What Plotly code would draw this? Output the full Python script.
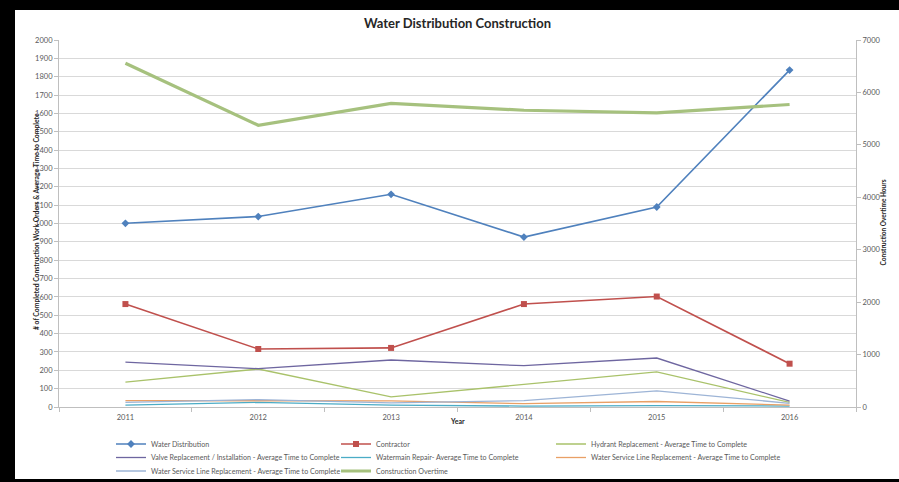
import plotly.graph_objects as go

# Years on the category axis
years = ["2011", "2012", "2013", "2014", "2015", "2016"]

# Left-axis series (work orders & average time to complete)
water_distribution = [1001, 1038, 1159, 926, 1090, 1836]
contractor = [561, 316, 322, 561, 602, 236]
hydrant_replacement = [136, 207, 55, 125, 191, 25]
valve_replacement = [245, 209, 256, 225, 267, 32]
watermain_repair = [10, 25, 10, 5, 8, 5]
service_line_a = [35, 35, 33, 18, 30, 10]
service_line_b = [25, 40, 22, 35, 88, 20]

# Right-axis series (overtime hours)
construction_overtime = [6556, 5373, 5790, 5660, 5610, 5770]

FONT = "Lato, 'Open Sans', sans-serif"
GRAY = "#595959"

W, H = 899, 482
L, R, T, B = 59, 43, 40, 75
PW, PH = W - L - R, H - T - B


def px_x(px):
    return (px - L) / PW


def px_y(py):
    return (H - B - py) / PH


fig = go.Figure()

# name, values, colour, width, marker symbol
line_series = [
    ("Water Distribution", water_distribution, "#4F81BD", 1.6, "diamond"),
    ("Contractor", contractor, "#C0504D", 1.6, "square"),
    ("Hydrant Replacement - Average Time to Complete", hydrant_replacement, "#A9C26A", 1.3, None),
    ("Valve Replacement / Installation - Average Time to Complete", valve_replacement, "#6E66A0", 1.3, None),
    ("Watermain Repair- Average Time to Complete", watermain_repair, "#4BACC6", 1.3, None),
    ("Water Service Line Replacement - Average Time to Complete", service_line_a, "#E9A066", 1.3, None),
    ("Water Service Line Replacement - Average Time to Complete", service_line_b, "#9DB4D6", 1.3, None),
]

# Each legend entry gets its own legend box, laid out on a 3-column grid
legend_ids = ["legend"] + [f"legend{i}" for i in range(2, 9)]
col_text_x = [151, 376, 591]
row_y = [444, 457.5, 471]

for i, (name, vals, color, width, sym) in enumerate(line_series):
    kw = dict(mode="lines")
    if sym:
        kw = dict(mode="lines+markers", marker=dict(symbol=sym, size=6, color=color))
    fig.add_trace(go.Scatter(x=years, y=vals, name=name, legend=legend_ids[i],
                             line=dict(color=color, width=width), **kw))

fig.add_trace(go.Scatter(x=years, y=construction_overtime, name="Construction Overtime",
                         legend=legend_ids[7], mode="lines",
                         line=dict(color="#A6C17E", width=3.2), yaxis="y2"))

tickfont = dict(family=FONT, size=7.5, color=GRAY)

legends = {}
for i, lid in enumerate(legend_ids):
    legends[lid] = dict(x=px_x(col_text_x[i % 3] - 40), xanchor="left",
                        y=px_y(row_y[i // 3]), yanchor="middle",
                        font=dict(family=FONT, size=7.1, color=GRAY),
                        bgcolor="rgba(0,0,0,0)", itemwidth=30)

fig.update_layout(
    width=W, height=H,
    margin=dict(l=L, r=R, t=T, b=B, autoexpand=False),
    paper_bgcolor="black",
    plot_bgcolor="white",
    showlegend=True,
    title=dict(text="<b>Water Distribution Construction</b>", xref="paper", x=px_x(457.5),
               xanchor="center", y=1 - 23 / H, yanchor="middle",
               font=dict(family=FONT, size=13, color="#262626")),
    xaxis=dict(type="category", tickson="boundaries", ticks="outside", ticklen=4,
               tickcolor="#BFBFBF", showline=True, linecolor="#BFBFBF", showgrid=False,
               tickfont=tickfont, ticklabelstandoff=3, range=[-0.5, 5.5], fixedrange=True),
    yaxis=dict(range=[0, 2000], dtick=100, showgrid=True, gridcolor="#D9D9D9",
               showline=True, linecolor="#BFBFBF", ticks="outside", ticklen=4,
               tickcolor="#BFBFBF", tickfont=tickfont, zeroline=False),
    yaxis2=dict(range=[0, 7000], dtick=1000, overlaying="y", side="right",
                showgrid=False, showline=True, linecolor="#BFBFBF", ticks="outside",
                ticklen=4, tickcolor="#BFBFBF", tickfont=tickfont, zeroline=False),
    shapes=[dict(type="rect", xref="paper", yref="paper", layer="below",
                 x0=px_x(15), x1=px_x(905), y0=px_y(479), y1=px_y(10),
                 fillcolor="white", line=dict(width=0))],
    annotations=[
        dict(text="<b># of Completed Construction Work Orders & Average Time to Complete</b>",
             xref="paper", yref="paper", x=px_x(30), y=px_y(222), textangle=-90,
             showarrow=False, font=dict(family=FONT, size=6.8, color="#262626")),
        dict(text="<b>Construction Overtime Hours</b>",
             xref="paper", yref="paper", x=px_x(888), y=px_y(223), textangle=-90,
             showarrow=False, font=dict(family=FONT, size=6.5, color="#262626")),
        dict(text="<b>Year</b>", xref="paper", yref="paper", x=px_x(457), y=px_y(427),
             showarrow=False, font=dict(family=FONT, size=7, color="#262626")),
    ],
    **legends,
)

fig.write_html("out.html")
